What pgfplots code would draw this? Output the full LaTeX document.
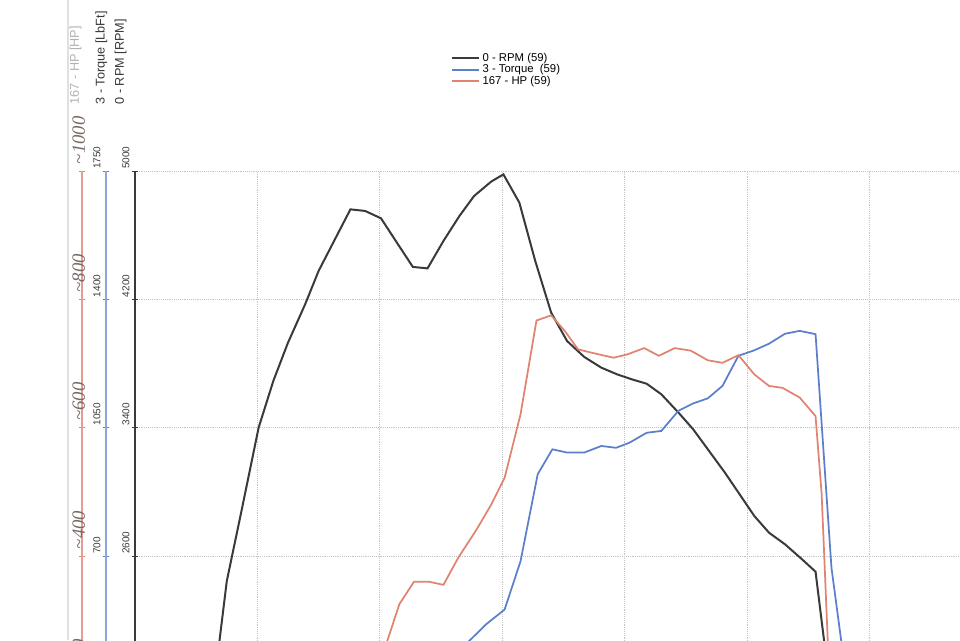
\documentclass[border=0pt]{standalone}
\usepackage{fontspec}
\setmainfont{Liberation Sans}
\newfontfamily\hand{Liberation Serif}
\usepackage{pgfplots}
\usepackage{pgfplotstable}
\pgfplotsset{compat=1.18}

\definecolor{rpmc}{HTML}{3A3A3A}
\definecolor{trqc}{HTML}{5B7FCB}
\definecolor{hpc}{HTML}{E08371}
\definecolor{gridc}{HTML}{C4C4C4}
\definecolor{inkc}{HTML}{7A6A66}

% x: run position in grid units, y: value in the series' own unit
\pgfplotstableread{
x    rpm
0.50 1100
0.60 1600
0.69 2070
0.75 2444
0.87 2881
1.01 3400
1.13 3691
1.25 3930
1.39 4169
1.50 4377
1.64 4584
1.76 4761
1.88 4751
2.01 4705
2.14 4553
2.27 4402
2.39 4393
2.52 4564
2.65 4719
2.77 4844
2.91 4934
3.01 4979
3.14 4803
3.27 4439
3.40 4117
3.53 3940
3.67 3841
3.81 3774
3.94 3732
4.06 3701
4.18 3674
4.30 3608
4.44 3494
4.56 3390
4.68 3265
4.82 3119
4.94 2984
5.06 2849
5.18 2745
5.31 2673
5.45 2579
5.56 2502
5.63 2070
5.69 1300
}\rpmdata

\pgfplotstableread{
x    trq
2.20 330
2.50 390
2.73 468
2.87 514
3.02 554
3.15 686
3.29 923
3.41 991
3.53 982
3.67 982
3.81 1000
3.93 995
4.04 1009
4.18 1036
4.30 1041
4.44 1096
4.56 1116
4.68 1130
4.80 1164
4.93 1246
5.06 1261
5.18 1279
5.31 1306
5.43 1314
5.56 1305
5.69 668
5.77 468
5.85 250
}\trqdata

\pgfplotstableread{
x    hp
1.70 90
1.90 180
2.06 267
2.16 325
2.28 360
2.40 360
2.52 355
2.64 397
2.79 441
2.91 480
3.02 522
3.15 621
3.28 767
3.40 775
3.51 751
3.62 722
3.77 715
3.91 709
4.02 714
4.16 724
4.28 712
4.41 724
4.54 720
4.68 705
4.80 701
4.93 713
5.06 683
5.18 665
5.29 662
5.43 647
5.56 618
5.61 496
5.66 267
5.70 60
}\hpdata

\pgfplotsset{
  dyno/.style={
    scale only axis, width=734.4pt, height=481.2pt,
    at={(101.25pt,-609.45pt)}, anchor=south west,
    xmin=0, xmax=8, clip=false,
    axis y line*=left,
    tick align=center, major tick length=5pt,
    yticklabel style={rotate=90, anchor=south west, inner sep=1.5pt,
      font=\fontsize{7.5}{8}\selectfont},
    ylabel style={anchor=south west, font=\fontsize{9.5}{10}\selectfont},
  },
}

\begin{document}
\begin{tikzpicture}
\useasboundingbox (0,0) rectangle (720pt,-480pt);
\clip (0,0) rectangle (720pt,-480pt);
\fill[white] (0,0) rectangle (720pt,-480pt);
\draw[black!12, line width=0.8pt] (51pt,0) -- (51pt,-480pt);

% RPM axis with the grid and the legend
\begin{axis}[dyno,
  ymin=1000, ymax=5000,
  axis x line*=bottom, xtick={1,...,7}, xmajorticks=false,
  ytick={2600,3400,4200,5000},
  yticklabels={2600,3400,4200,5000},
  extra y ticks={1800}, extra y tick labels={},
  grid=major, xmajorgrids=true, ymajorgrids=true,
  grid style={gridc, densely dotted, line width=0.6pt},
  extra y tick style={grid=major},
  y axis line style={rpmc, line width=0.9pt},
  ytick style={rpmc, line width=0.6pt},
  yticklabel style={text=rpmc},
  ylabel={0 - RPM [RPM]},
  ylabel style={at={(axis description cs:-0.0039,1.0966)}, text=rpmc},
  legend style={at={(0.3227,1.1886)}, anchor=north west, draw=none, fill=none,
    font=\fontsize{8.5}{9}\selectfont, inner sep=0pt, row sep=-3pt},
  legend cell align=left,
  legend image code/.code={\draw[#1] (0pt,0pt) -- (20pt,0pt);},
]
\addplot[rpmc, line width=1.5pt] table[x=x, y=rpm] {\rpmdata};
\addlegendentry{0 - RPM (59)}
\addlegendimage{trqc, line width=1.5pt}
\addlegendentry{3 - Torque\ \ (59)}
\addlegendimage{hpc, line width=1.5pt}
\addlegendentry{167 - HP (59)}
\end{axis}

% Torque axis
\begin{axis}[dyno,
  ymin=0, ymax=1750,
  axis x line=none,
  axis y line shift=21.75pt,
  ytick={700,1050,1400,1750},
  yticklabels={700,1050,1400,1750},
  y axis line style={trqc!70, line width=0.8pt},
  ytick style={trqc, line width=0.6pt},
  yticklabel style={text=rpmc},
  ylabel={3 - Torque [LbFt]},
  ylabel style={at={(axis description cs:-0.0234,1.0966)}, text=rpmc},
]
\addplot[trqc, line width=1.3pt] table[x=x, y=trq] {\trqdata};
\end{axis}

% HP axis, its labels are the hand-written ones
\begin{axis}[dyno,
  ymin=0, ymax=1000,
  axis x line=none,
  axis y line shift=39.75pt,
  ytick={200,400,600,800,1000},
  yticklabels={\textasciitilde200,\textasciitilde400,\textasciitilde600,\textasciitilde800,\textasciitilde1000},
  y axis line style={hpc!80, line width=0.8pt},
  ytick style={hpc, line width=0.6pt},
  yticklabel style={anchor=west, text=inkc, inner ysep=1pt, inner xsep=5pt,
    font=\hand\itshape\fontsize{14}{14}\selectfont},
  ylabel={167 - HP [HP]},
  ylabel style={at={(axis description cs:-0.0498,1.0966)}, text=black!30},
]
\addplot[hpc, line width=1.3pt] table[x=x, y=hp] {\hpdata};
\end{axis}
\end{tikzpicture}
\end{document}
